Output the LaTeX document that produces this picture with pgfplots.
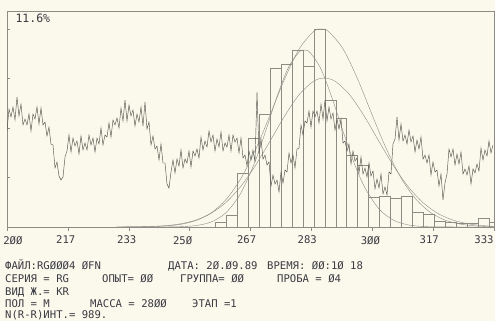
\documentclass[border=0pt]{standalone}
\usepackage{fontspec}
\usepackage{pgfplots}
\pgfplotsset{compat=1.18}
\newfontfamily\pr{DejaVu Sans Mono}
\definecolor{paper}{HTML}{FBF9EC}
\definecolor{ink}{HTML}{3A3A42}
\definecolor{trace}{HTML}{55554F}
\definecolor{lgray}{HTML}{8C8C84}
\newcommand\pf{\pr\fontsize{10.6}{12}\selectfont}
\begin{document}
\begin{tikzpicture}[x=1pt,y=1pt]
\path[use as bounding box, fill=paper] (0,0) rectangle (495,-321);
\begin{axis}[
  at={(7pt,-11pt)}, anchor=north west,
  scale only axis, width=487pt, height=216pt,
  xmin=200, xmax=333.333, ymin=0, ymax=12.66,
  axis line style={lgray, line width=0.5pt},
  xtick={200,216.667,233.333,250,266.667,283.333,300,316.667,333.333},
  xticklabels={},
  ytick={2.9,5.8,8.7,11.6}, yticklabels={},
  tick pos=left, xtick align=outside, ytick align=inside,
  major tick length=3.5pt,
  tick style={lgray, line width=0.5pt},
  extra x ticks={201.6,216.1,232.8,248.1,265.6,282.2,299.5,315.6,330.6},
  extra x tick labels={2ØØ,217,233,25Ø,267,283,3ØØ,317,333},
  extra x tick style={tick style={draw=none}},
  xticklabel style={font=\pf, text=ink, yshift=-2pt},
]
\addplot[ybar interval, draw=lgray, fill=none, line width=0.45pt] coordinates {
(257,0.29) (260,0.70) (263,3.16) (266,5.21) (269,6.62) (272,9.32) (275,9.55)
(278,10.37) (281,9.43) (284,11.60) (287,7.44) (290,6.39) (293,4.22) (296,3.63)
(299,1.76) (302,1.82) (305,1.70) (308,1.82) (311,0.88) (314,0.76) (317,0.35)
(320,0.29) (323,0.23) (326,0.23) (329,0.53) (332,0.29) (335,0.29)};
\addplot[lgray, smooth, line width=0.4pt] coordinates {
(230,0) (236,0.008) (240,0.024) (244,0.068) (248,0.173) (252,0.40) (256,0.84)
(260,1.62) (264,2.83) (268,4.51) (272,6.55) (276,8.67) (280,10.44) (284,11.47)
(286,11.6) (288,11.47) (292,10.44) (296,8.67) (300,6.55) (304,4.51) (308,2.83)
(312,1.62) (316,0.84) (320,0.40) (324,0.173) (328,0.068) (332,0.024) (333.3,0.017)};
\addplot[lgray, smooth, line width=0.4pt] coordinates {
(230,0) (236,0.014) (240,0.037) (244,0.091) (248,0.205) (252,0.426) (256,0.82)
(260,1.45) (264,2.38) (268,3.60) (272,5.03) (276,6.50) (280,7.76) (284,8.55)
(287,8.73) (290,8.52) (294,7.70) (298,6.43) (302,4.96) (306,3.53) (310,2.32)
(314,1.41) (318,0.79) (322,0.41) (326,0.197) (330,0.087) (333.3,0.042)};
\addplot[lgray, smooth, line width=0.4pt] coordinates {
(230,0) (244,0.003) (248,0.023) (252,0.092) (256,0.304) (260,0.85) (264,1.98)
(268,3.88) (271,5.74) (274,7.69) (277,9.33) (280,10.26) (281.4,10.37) (283,10.22)
(286,9.24) (289,7.56) (292,5.61) (295,3.77) (298,2.30) (302,1.02) (306,0.38)
(310,0.118) (314,0.031) (318,0.006) (333.3,0)};
\end{axis}
\begin{axis}[
  at={(7pt,-11pt)}, anchor=north west,
  scale only axis, width=487pt, height=216pt,
  xmin=7, xmax=494, ymin=11, ymax=227, y dir=reverse, hide axis]
\addplot[trace, line width=0.45pt] table {
x y
7 131
9 109
11 117
13 107
15 120
17 97
19 116
21 104
23 125
25 119
27 125
29 114
31 131
33 114
35 119
37 107
39 124
41 108
43 125
45 122
47 136
49 127
51 144
53 145
55 168
57 162
59 176
61 180
63 177
65 157
67 151
69 135
71 152
73 138
75 146
77 141
79 154
81 136
83 150
85 143
87 150
89 135
91 145
93 138
95 152
97 138
99 144
101 128
103 145
105 135
107 137
109 123
111 137
113 120
115 125
117 118
119 128
121 108
123 121
125 100
127 121
129 105
131 116
133 110
135 126
137 114
139 122
141 107
143 126
145 102
147 129
149 122
151 145
153 136
155 149
157 146
159 160
161 144
163 163
165 163
167 184
169 188
171 172
173 160
175 173
177 159
179 166
181 150
183 168
185 159
187 163
189 151
191 167
193 151
195 156
197 149
199 158
201 137
203 150
205 141
207 147
209 131
211 142
213 135
215 151
217 139
219 147
221 132
223 151
225 143
227 147
229 135
231 151
233 135
235 142
237 138
239 153
241 138
243 158
245 155
247 166
249 151
251 160
253 150
255 162
257 92
259 154
261 139
263 159
265 155
267 165
269 162
271 186
273 175
275 184
277 180
279 192
281 172
283 183
285 170
287 172
289 153
291 163
293 155
295 168
297 149
299 148
301 125
303 135
305 121
307 123
309 111
311 127
313 111
315 117
317 111
319 123
321 104
323 119
325 100
327 121
329 107
331 119
333 113
335 130
337 119
339 129
341 119
343 143
345 141
347 151
349 144
351 164
353 151
355 161
357 158
359 173
361 157
363 174
365 168
367 177
369 163
371 176
373 171
375 189
377 179
379 188
381 174
383 194
385 187
387 195
389 172
391 174
393 144
395 139
397 117
399 140
401 124
403 141
405 135
407 144
409 130
411 142
413 136
415 152
417 140
419 149
421 137
423 159
425 155
427 163
429 155
431 175
433 162
435 172
437 170
439 186
441 174
443 200
445 183
447 174
449 149
451 157
453 149
455 165
457 154
459 164
461 152
463 174
465 169
467 175
469 166
471 184
473 169
475 173
477 164
479 171
481 148
483 160
485 150
487 156
489 141
491 153
493 145
};
\end{axis}
\node[anchor=base west, font=\pr\fontsize{11.5}{13}\selectfont, text=ink] at (12,-23) {11.6\%};
\begin{scope}[every node/.style={anchor=base west, font=\pf, text=ink, inner sep=0pt}]
\node at (5,-269) {ФАЙЛ:RGØØØ4 ØFN};
\node at (168,-269) {ДАТА: 2Ø.Ø9.89};
\node at (267,-269) {ВРЕМЯ: ØØ:1Ø 18};
\node at (5,-282) {СЕРИЯ = RG};
\node at (102,-282) {ОПЫТ= ØØ};
\node at (180,-282) {ГРУППА= ØØ};
\node at (277,-282) {ПРОБА  = Ø4};
\node at (5,-295) {ВИД Ж.= KR};
\node at (5,-307) {ПОЛ = М};
\node at (90,-307) {МАССА = 28ØØ};
\node at (192,-307) {ЭТАП =1};
\node at (5,-318) {N(R-R)ИНТ.= 989.};
\end{scope}
\end{tikzpicture}
\end{document}
